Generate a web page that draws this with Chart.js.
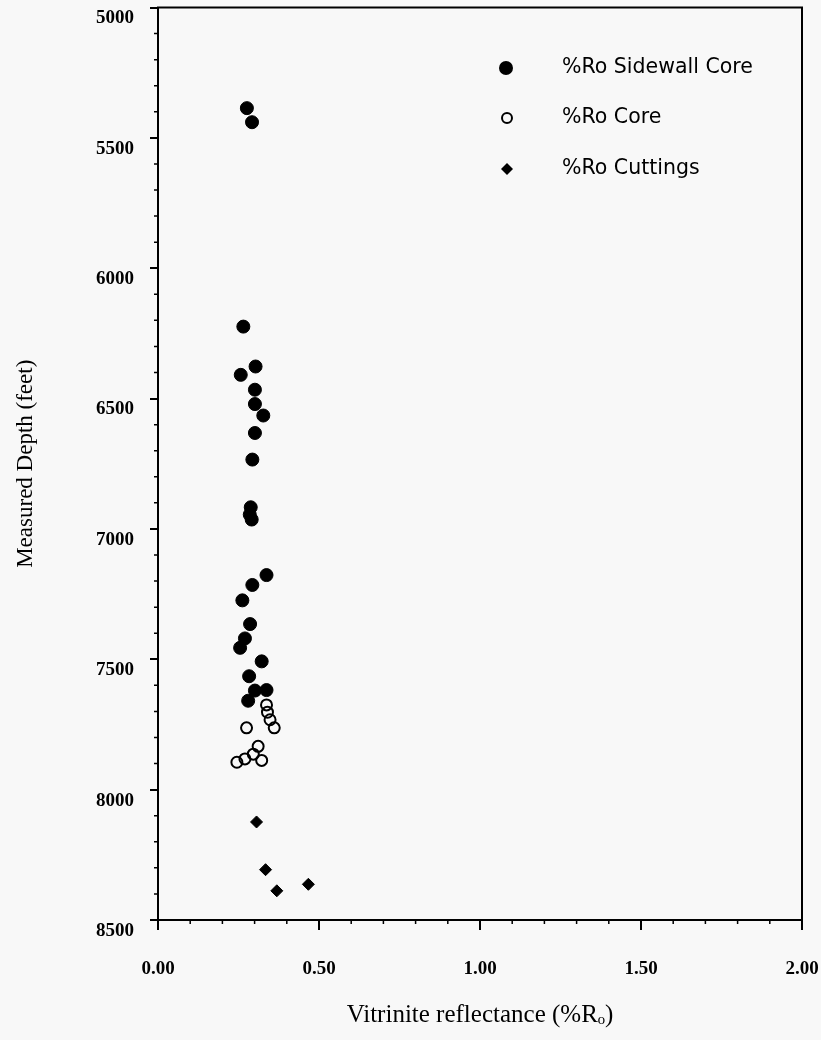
<!DOCTYPE html>
<html>
<head>
<meta charset="utf-8">
<script src="https://cdn.jsdelivr.net/npm/chart.js@4.4.1/dist/chart.umd.min.js"></script>
<style>
  body { margin: 0; background: #f8f8f8; }
  canvas { display: block; }
</style>
</head>
<body>
<canvas id="myChart" width="821" height="1040"></canvas>
<script>
// %Ro values and measured depths
var sidewallRo = [0.276, 0.292, 0.265, 0.303, 0.257, 0.301, 0.301, 0.327, 0.301, 0.293,
  0.288, 0.285, 0.291, 0.337, 0.293, 0.262, 0.286, 0.270, 0.255, 0.322, 0.283, 0.337, 0.301, 0.280];
var sidewallDepth = [5386, 5440, 6224, 6377, 6409, 6466, 6521, 6565, 6632, 6734,
  6917, 6945, 6964, 7177, 7215, 7274, 7365, 7420, 7456, 7508, 7565, 7618, 7620, 7659];

var coreRo = [0.337, 0.340, 0.348, 0.361, 0.275, 0.311, 0.245, 0.270, 0.296, 0.322];
var coreDepth = [7675, 7703, 7732, 7763, 7763, 7834, 7895, 7882, 7864, 7888];

var cuttingsRo = [0.306, 0.334, 0.369, 0.467];
var cuttingsDepth = [8124, 8307, 8388, 8363];

var legendLabels = ['%Ro Sidewall Core', '%Ro Core', '%Ro Cuttings'];

function pts(xs, ys) {
  return xs.map(function (v, i) { return { x: v, y: ys[i] }; });
}

var tickFont = { family: 'Liberation Serif', size: 19, weight: 'bold' };

// frame, minor ticks and legend
var extras = {
  id: 'extras',
  beforeDraw: function (chart) {
    var c = chart.ctx;
    c.save();
    c.fillStyle = '#f8f8f8';
    c.fillRect(0, 0, chart.width, chart.height);
    c.restore();
  },
  afterDraw: function (chart) {
    var c = chart.ctx;
    var a = chart.chartArea;
    var xs = chart.scales.x;
    var ys = chart.scales.y;
    c.save();
    c.strokeStyle = '#000';
    c.lineWidth = 2;
    c.strokeRect(a.left, a.top, a.right - a.left, a.bottom - a.top);

    c.lineWidth = 1.5;
    c.beginPath();
    for (var d = 5000; d <= 8500; d += 100) {
      if (d % 500 == 0) continue;
      var py = ys.getPixelForValue(d);
      c.moveTo(a.left - 4, py);
      c.lineTo(a.left, py);
    }
    for (var i = 0; i <= 20; i++) {
      if (i % 5 == 0) continue;
      var px = xs.getPixelForValue(i / 10);
      c.moveTo(px, a.bottom);
      c.lineTo(px, a.bottom + 4);
    }
    c.stroke();

    // legend
    var rowY = [68, 118, 169];
    var mx = 506;
    c.fillStyle = '#000';
    c.beginPath();
    c.arc(mx, rowY[0], 7, 0, Math.PI * 2);
    c.fill();
    c.lineWidth = 2;
    c.beginPath();
    c.arc(mx + 1, rowY[1], 5, 0, Math.PI * 2);
    c.stroke();
    c.beginPath();
    c.moveTo(mx + 1, rowY[2] - 6);
    c.lineTo(mx + 7, rowY[2]);
    c.lineTo(mx + 1, rowY[2] + 6);
    c.lineTo(mx - 5, rowY[2]);
    c.closePath();
    c.fill();

    c.font = '20.5px "DejaVu Sans"';
    c.textBaseline = 'middle';
    c.textAlign = 'left';
    for (var k = 0; k < legendLabels.length; k++) {
      c.fillText(legendLabels[k], 562, rowY[k]);
    }
    c.restore();
  }
};

var ctx = document.getElementById('myChart');

var data = {
  datasets: [{
    label: legendLabels[0],
    data: pts(sidewallRo, sidewallDepth),
    pointStyle: 'circle',
    pointRadius: 6.5,
    backgroundColor: '#000',
    borderColor: '#000',
    borderWidth: 1
  }, {
    label: legendLabels[1],
    data: pts(coreRo, coreDepth),
    pointStyle: 'circle',
    pointRadius: 5.5,
    backgroundColor: 'rgba(0,0,0,0)',
    borderColor: '#000',
    borderWidth: 2
  }, {
    label: legendLabels[2],
    data: pts(cuttingsRo, cuttingsDepth),
    pointStyle: 'rectRot',
    pointRadius: 6,
    backgroundColor: '#000',
    borderColor: '#000',
    borderWidth: 1
  }]
}

var options = {
  responsive: false,
  animation: false,
  layout: { padding: { top: 5, right: 19, left: 0, bottom: 0 } },
  plugins: {
    legend: { display: false },
    tooltip: { enabled: false }
  },
  scales: {
    x: {
      type: 'linear',
      min: 0,
      max: 2,
      afterFit: function (s) {
        s.height = 120;
        s.paddingLeft = 0;
        s.paddingRight = 0;
      },
      border: { display: true, color: '#000', width: 2 },
      grid: { drawOnChartArea: false, color: '#000', lineWidth: 2, tickLength: 10 },
      ticks: {
        stepSize: 0.5,
        color: '#000',
        font: tickFont,
        padding: 28,
        callback: function (v) { return Number(v).toFixed(2); }
      },
      title: {
        display: true,
        text: 'Vitrinite reflectance (%Rₒ)',
        color: '#000',
        font: { family: 'Liberation Serif', size: 25 },
        padding: { top: 14, bottom: 10 }
      }
    },
    y: {
      type: 'linear',
      reverse: true,
      min: 5000,
      max: 8500,
      afterFit: function (s) {
        s.width = 158;
        s.paddingTop = 0;
        s.paddingBottom = 0;
      },
      border: { display: true, color: '#000', width: 2 },
      grid: { drawOnChartArea: false, color: '#000', lineWidth: 2, tickLength: 8 },
      ticks: {
        stepSize: 500,
        color: '#000',
        font: tickFont,
        padding: 16,
        labelOffset: 11,
        callback: function (v) { return String(v); }
      },
      title: {
        display: true,
        text: 'Measured Depth (feet)',
        color: '#000',
        font: { family: 'Liberation Serif', size: 23 },
        padding: { top: 12, bottom: 0 }
      }
    }
  }
}

var myScatter = new Chart(ctx, {
  type: 'scatter',
  data: data,
  options: options,
  plugins: [extras]
});
</script>
</body>
</html>
